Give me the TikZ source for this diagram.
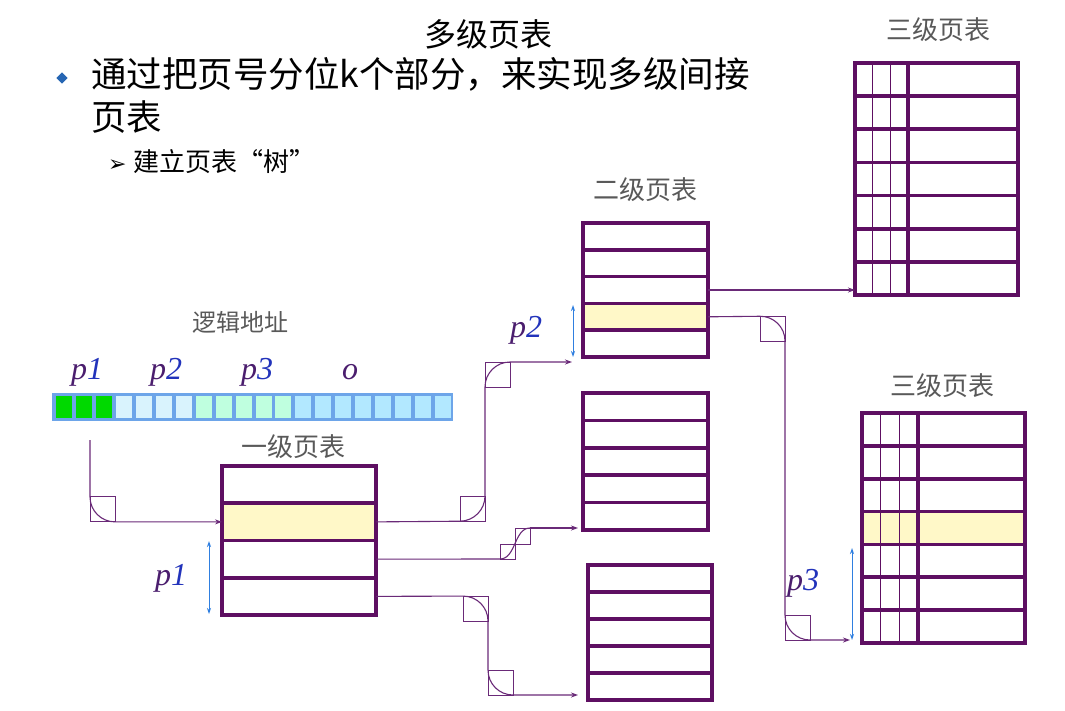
\documentclass[tikz,border=0pt]{standalone}
\usepackage{fontspec}
\setmainfont{Liberation Serif}
\newfontfamily\cjk{Noto Sans CJK SC}
\usetikzlibrary{arrows.meta}
\definecolor{tabc}{HTML}{5E0F62}
\definecolor{conc}{HTML}{6A2A78}
\definecolor{hlc}{HTML}{FFF8C8}
\definecolor{pc}{HTML}{4B1E6E}
\definecolor{dc}{HTML}{2233BB}
\definecolor{blu}{HTML}{2F7FE0}
\tikzset{
  tabline/.style={draw=tabc,line width=3.6pt},
  thinline/.style={draw=tabc,line width=1pt},
  conn/.style={draw=conc,line width=1.1pt},
  arr/.style={conn,-{Stealth[length=7pt,width=5pt]}},
  sq/.style={draw=conc,line width=1pt},
  dim/.style={draw=blu,line width=1pt,{Stealth[length=6pt,width=4pt]}-{Stealth[length=6pt,width=4pt]}},
  lab/.style={font=\cjk\fontsize{26}{28}\selectfont,text=black!65},
  pl/.style={font=\fontsize{32}{34}\selectfont\itshape},
}
% name, x1, y1, x2, y2, rows, highlighted row
\newcommand\ptab[7]{%
  \pgfmathsetmacro\rh{(#5-#3)/#6}
  \ifnum#7>0 \fill[hlc] (#2,{#3+(#7-1)*\rh}) rectangle (#4,{#3+#7*\rh});\fi
  \foreach \i in {1,...,#6}{
    \coordinate (#1-L\i) at (#2,{#3+(\i-0.5)*\rh});
    \coordinate (#1-R\i) at (#4,{#3+(\i-0.5)*\rh});
    \ifnum\i<#6 \draw[tabline] (#2,{#3+\i*\rh}) -- (#4,{#3+\i*\rh});\fi
  }
  \coordinate (#1-nw) at (#2,#3);
  \coordinate (#1-se) at (#4,#5);
  \coordinate (#1-sw) at (#2,#5);
}
\begin{document}
\begin{tikzpicture}[x=1pt,y=-1pt]
\useasboundingbox (0,0) rectangle (1065,710);
\fill[white] (0,0) rectangle (1065,710);
% titles and text
\node[font=\cjk\fontsize{32}{34}\selectfont] (title) at (488,34) {多级页表};
\node[fill=blu!80!black,rotate=45,minimum size=8pt,inner sep=0] (bul) at (62,78) {};
\node[anchor=west,font=\cjk\fontsize{35.5}{38}\selectfont,inner sep=0] (t1) at (91,74) {通过把页号分位k个部分，来实现多级间接};
\node[anchor=west,font=\cjk\fontsize{35.5}{38}\selectfont,inner sep=0] (t2) at (91,117) {页表};
\node[anchor=west,inner sep=0] (t3) at (108,162) {\fontspec{DejaVu Sans}\fontsize{22}{24}\selectfont ➢\ \cjk\fontsize{26}{28}\selectfont 建立页表“树”};
% labels
\node[lab] (l2) at (645,190) {二级页表};
\node[lab] (l3a) at (938,30) {三级页表};
\node[lab] (l3b) at (942,386) {三级页表};
\node[lab,font=\cjk\fontsize{24}{26}\selectfont] (la) at (240,322) {逻辑地址};
\node[lab] (l1) at (293,447) {一级页表};
% address bar
\fill[blu!70] (52,393) rectangle (453,421);
\foreach \i in {0,...,19}{
  \pgfmathsetmacro\xa{54+\i*19.95+2}
  \ifnum\i<3 \def\cc{green!85!black}\else\ifnum\i<7 \def\cc{cyan!15}\else\ifnum\i<12 \def\cc{green!50!cyan!25}\else\def\cc{blue!30!cyan!30}\fi\fi\fi
  \fill[\cc] (\xa,396) rectangle ({\xa+16},418);
}
\node[pl] (p1a) at (87,372) {\textcolor{pc}{p}\textcolor{dc}{1}};
\node[pl] (p2a) at (166,372) {\textcolor{pc}{p}\textcolor{dc}{2}};
\node[pl] (p3a) at (257,372) {\textcolor{pc}{p}\textcolor{dc}{3}};
\node[pl,text=pc] (oa) at (350,372) {o};
% tables
\ptab{T1}{222}{466}{376}{615}{4}{2}
\ptab{A}{583}{223}{708}{357}{5}{4}
\ptab{B}{583}{393}{708}{530}{5}{0}
\ptab{C}{588}{565}{712}{700}{5}{0}
\ptab{D}{855}{63}{1018}{295}{7}{0}
\ptab{E}{862}{413}{1025}{643}{7}{4}
\foreach \x in {872,890} \draw[thinline] (\x,63) -- (\x,295);
\draw[tabline] (908,63) -- (908,295);
\foreach \x in {880,899} \draw[thinline] (\x,413) -- (\x,643);
\draw[tabline] (918,413) -- (918,643);
\foreach \t in {T1,A,B,C,D,E} \draw[tabline] (\t-nw) rectangle (\t-se);
% dimension arrows
\draw[dim] (209,541) -- (209,614);
\node[pl] (p1b) at (171,578) {\textcolor{pc}{p}\textcolor{dc}{1}};
\draw[dim] (573,305) -- (573,357);
\node[pl] (p2b) at (526,330) {\textcolor{pc}{p}\textcolor{dc}{2}};
\draw[dim] (852,548) -- (852,640);
\node[pl] (p3b) at (803,583) {\textcolor{pc}{p}\textcolor{dc}{3}};
% connectors
\coordinate (s1) at (90,440);
\coordinate (e2) at (572,362);
\coordinate (m3) at (530,528);
\coordinate (e3) at (578,528);
\coordinate (e4) at (578,695);
\coordinate (e6) at (850,640);
\draw[arr,rounded corners=25pt] (s1) |- (T1-L2);
\draw[sq] (90,496) rectangle (115,521);
\draw[arr,rounded corners=25pt] (T1-R2) -- (485,521) |- (e2);
\draw[sq] (460,496) rectangle (485,521);
\draw[sq] (485,362) rectangle (510,387);
\draw[conn] (T1-R3) -- (500,559) .. controls (516,559) and (514,528) .. (m3);
\draw[arr] (m3) -- (e3);
\draw[sq] (500,544) rectangle (515,559);
\draw[sq] (515,528) rectangle (530,544);
\draw[arr,rounded corners=25pt] (T1-R4) -- (488,596) |- (e4);
\draw[sq] (463,596) rectangle (488,621);
\draw[sq] (488,670) rectangle (513,695);
\draw[arr] (A-R3) -- (A-R3 -| D-sw);
\draw[arr,rounded corners=25pt] (A-R4) -- (785,316) |- (e6);
\draw[sq] (760,316) rectangle (785,341);
\draw[sq] (785,615) rectangle (810,640);
\end{tikzpicture}
\end{document}
